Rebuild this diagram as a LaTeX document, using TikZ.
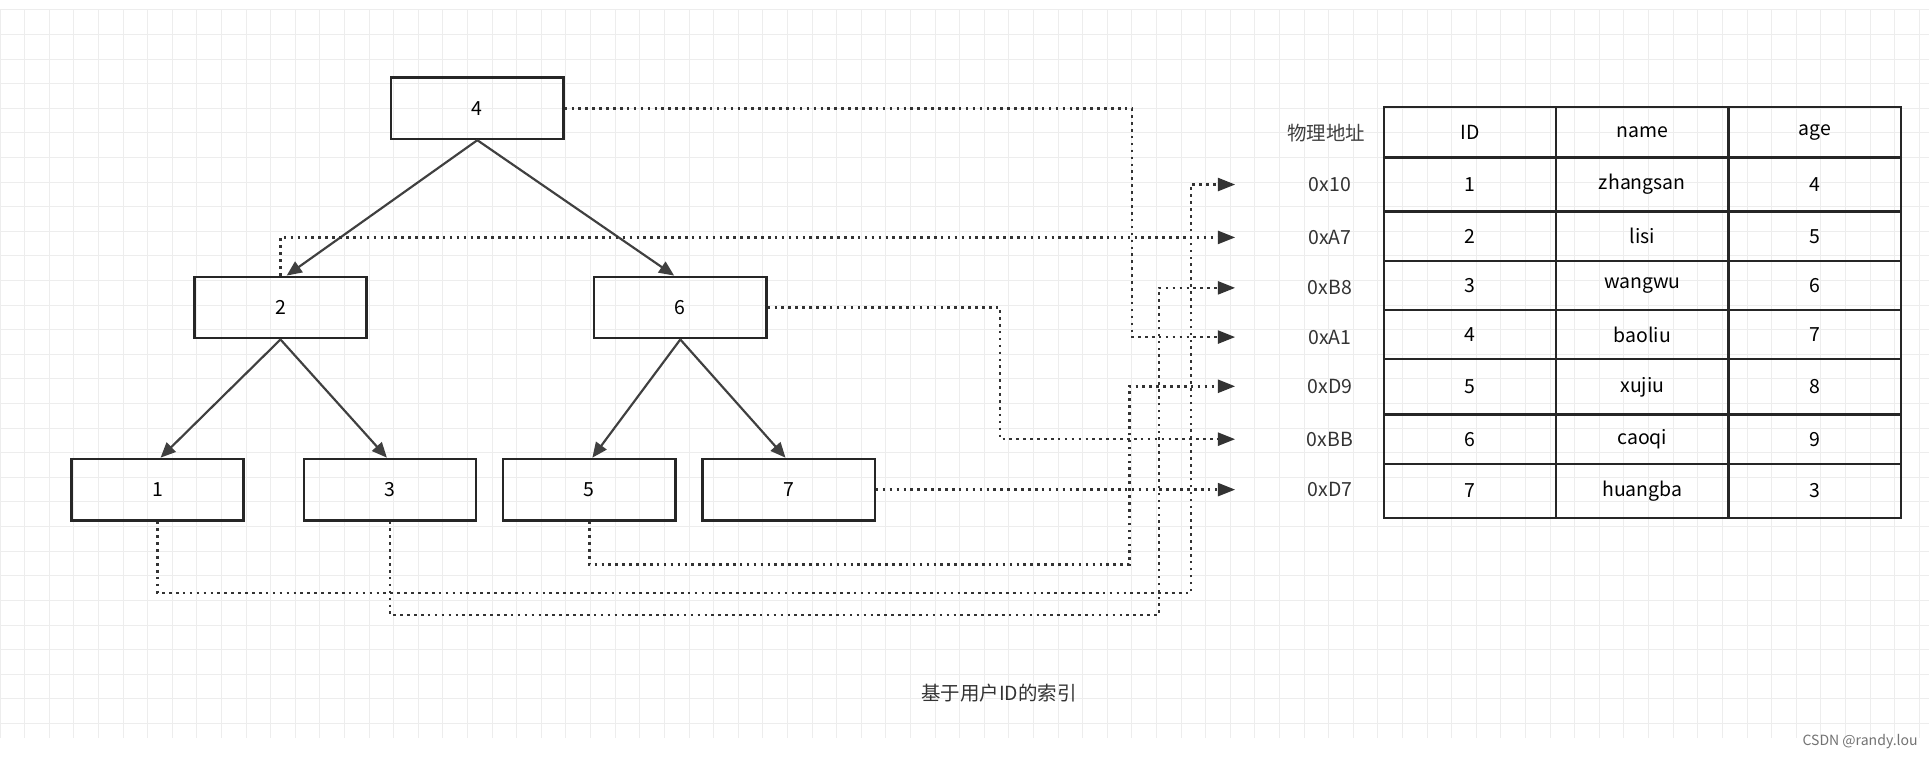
\documentclass[tikz,border=0pt]{standalone}
\usepackage{fontspec}
\setmainfont{Noto Sans CJK SC}
\usetikzlibrary{arrows.meta}

\begin{document}
\begin{tikzpicture}[x=0.02cm,y=-0.02cm,font=\fontsize{9}{10}\selectfont,
    keybox/.style={draw=black!85,line width=1.1pt,minimum width=2.8cm,minimum height=1cm,inner sep=0pt},
    cell/.style={draw=black!85,line width=1.1pt,minimum width=2.8cm,inner sep=0pt},
    tree/.style={-{Triangle[length=7pt,width=6pt]},line width=1pt,black!75},
    link/.style={-{Triangle[length=8pt,width=6pt]},dotted,line width=1.2pt,black!80}]
    % Bounding box and grid
    \useasboundingbox (0,0) rectangle (1568,617);
    \fill[white] (0,0) rectangle (1568,617);
    \foreach \gx in {0,20,...,1560} \draw[black!7,line width=0.4pt] (\gx,8) -- (\gx,600);
    \foreach \gy in {8,28,...,600} \draw[black!7,line width=0.4pt] (0,\gy) -- (1568,\gy);

    % Tree
    \node[keybox] (k4) at (388,88) {4};
    \node[keybox] (k2) at (228,250) {2};
    \node[keybox] (k6) at (553,250) {6};
    \node[keybox] (k1) at (128,398) {1};
    \node[keybox] (k3) at (317,398) {3};
    \node[keybox] (k5) at (479,398) {5};
    \node[keybox] (k7) at (641,398) {7};
    \draw[tree] (k4.south) -- ([xshift=0.1cm]k2.north);
    \draw[tree] (k4.south) -- ([xshift=-0.1cm]k6.north);
    \draw[tree] (k2.south) -- ([xshift=0.05cm]k1.north);
    \draw[tree] (k2.south) -- ([xshift=-0.05cm]k3.north);
    \draw[tree] (k6.south) -- ([xshift=0.05cm]k5.north);
    \draw[tree] (k6.south) -- ([xshift=-0.05cm]k7.north);

    % Table
    \foreach \row/\top/\bot/\id/\nm/\ag in {h/87/128/ID/name/age, 1/128/172/1/zhangsan/4,
        2/172/212/2/lisi/5, 3/212/252/3/wangwu/6, 4/252/292/4/baoliu/7,
        5/292/337/5/xujiu/8, 6/337/377/6/caoqi/9, 7/377/421/7/huangba/3} {
      \draw[black!85,line width=1.1pt] (1125,\top) rectangle (1265,\bot);
      \draw[black!85,line width=1.1pt] (1265,\top) rectangle (1405,\bot);
      \draw[black!85,line width=1.1pt] (1405,\top) rectangle (1545,\bot);
      \node (id\row) at (1195,{(\top+\bot)/2}) {\id};
      \node (nm\row) at (1335,{(\top+\bot)/2}) {\nm};
      \node (ag\row) at (1475,{(\top+\bot)/2}) {\ag};
    }

    % Physical addresses
    \node[text=black!75] (addr) at (1078,108) {物理地址};
    \foreach \nm/\y/\txt in {a1/150/0x10, a2/193/0xA7, a3/234/0xB8, a4/274/0xA1,
        a5/314/0xD9, a6/357/0xBB, a7/398/0xD7} {
      \node[text=black!80] at (1081,\y) {\txt};
      \coordinate (\nm) at (1004,\y);
    }

    % Pointers
    \draw[link] (k4.east) -| (920,274) -- (a4);
    \draw[link] (k2.north) |- (a2);
    \draw[link] (k6.east) -| (813,357) -- (a6);
    \draw[link] (k7.east) -- (a7);
    \draw[link] (k1.south) |- (968,482) |- (a1);
    \draw[link] (k3.south) |- (942,500) |- (a3);
    \draw[link] (k5.south) |- (918,459) |- (a5);

    % Caption
    \node[text=black!80] (caption) at (812,563) {基于用户ID的索引};
    \node[text=black!55,font=\fontsize{6.5}{7}\selectfont] (mark) at (1512,603) {CSDN @randy.lou};
\end{tikzpicture}
\end{document}
